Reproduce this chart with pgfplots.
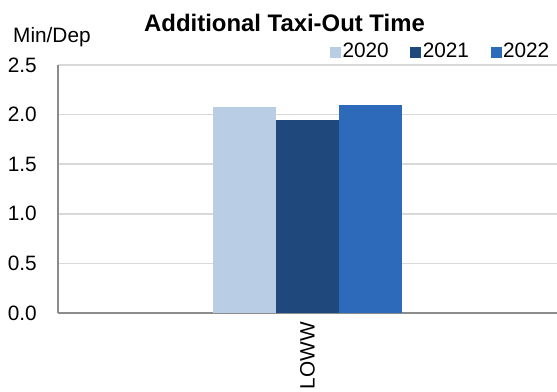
\documentclass[border=0pt]{standalone}
\usepackage{fontspec}
\setmainfont{Liberation Sans}
\usepackage{pgfplots}
\pgfplotsset{compat=1.18}
\definecolor{cA}{HTML}{B9CDE5}
\definecolor{cB}{HTML}{1F497D}
\definecolor{cC}{HTML}{2D6AB9}
\definecolor{gridgray}{HTML}{D9D9D9}
\definecolor{axisgray}{HTML}{8C8C8C}
\begin{document}
\fontsize{20.8pt}{24pt}\selectfont
\begin{tikzpicture}
\path[use as bounding box] (-58pt,-78pt) rectangle (499pt,313pt);
\begin{axis}[
  scale only axis, width=499pt, height=248pt,
  anchor=south west, at={(0pt,0pt)},
  xmin=-1, xmax=1, ymin=0, ymax=2.5,
  ybar=0pt, bar width=0.2525,
  xtick={0}, xticklabels={LOWW},
  x tick label style={yshift=-9pt, rotate=90, anchor=east, inner sep=0pt},
  ytick={0,0.5,1,1.5,2,2.5},
  yticklabel style={anchor=east, inner sep=0pt, xshift=-21pt,
    /pgf/number format/.cd, fixed, fixed zerofill, precision=1, assume math mode=true},
  tick label style={font=\fontsize{20.8pt}{24pt}\selectfont},
  major tick length=0pt,
  ymajorgrids, grid style={draw=gridgray, line width=1.6pt},
  axis x line*=bottom, axis y line*=left,
  axis line style={draw=axisgray, line width=1.2pt, -},
  legend columns=3,
  legend style={at={(0.988,1.052)}, anchor=east, draw=none, fill=none,
    inner sep=0pt, font=\fontsize{20.8pt}{24pt}\selectfont,
    /tikz/every even column/.append style={column sep=20pt},
    nodes={inner sep=1.5pt}},
  legend cell align=left,
  clip=false,
]
\addplot[fill=cA, draw=none, legend image code/.code={\fill[cA] (0pt,-5.5pt) rectangle (11pt,5.5pt);}] coordinates {(0,2.08)};
\addplot[fill=cB, draw=none, legend image code/.code={\fill[cB] (0pt,-5.5pt) rectangle (11pt,5.5pt);}] coordinates {(0,1.95)};
\addplot[fill=cC, draw=none, legend image code/.code={\fill[cC] (0pt,-5.5pt) rectangle (11pt,5.5pt);}] coordinates {(0,2.10)};
\legend{2020,2021,2022}
\end{axis}
\node[anchor=base, font=\bfseries\fontsize{23.9pt}{28pt}\selectfont, inner sep=0pt] at (226.5pt,281.3pt) {Additional Taxi-Out Time};
\node[anchor=base west, inner sep=0pt] at (-45pt,270.3pt) {Min/Dep};
\end{tikzpicture}
\end{document}
